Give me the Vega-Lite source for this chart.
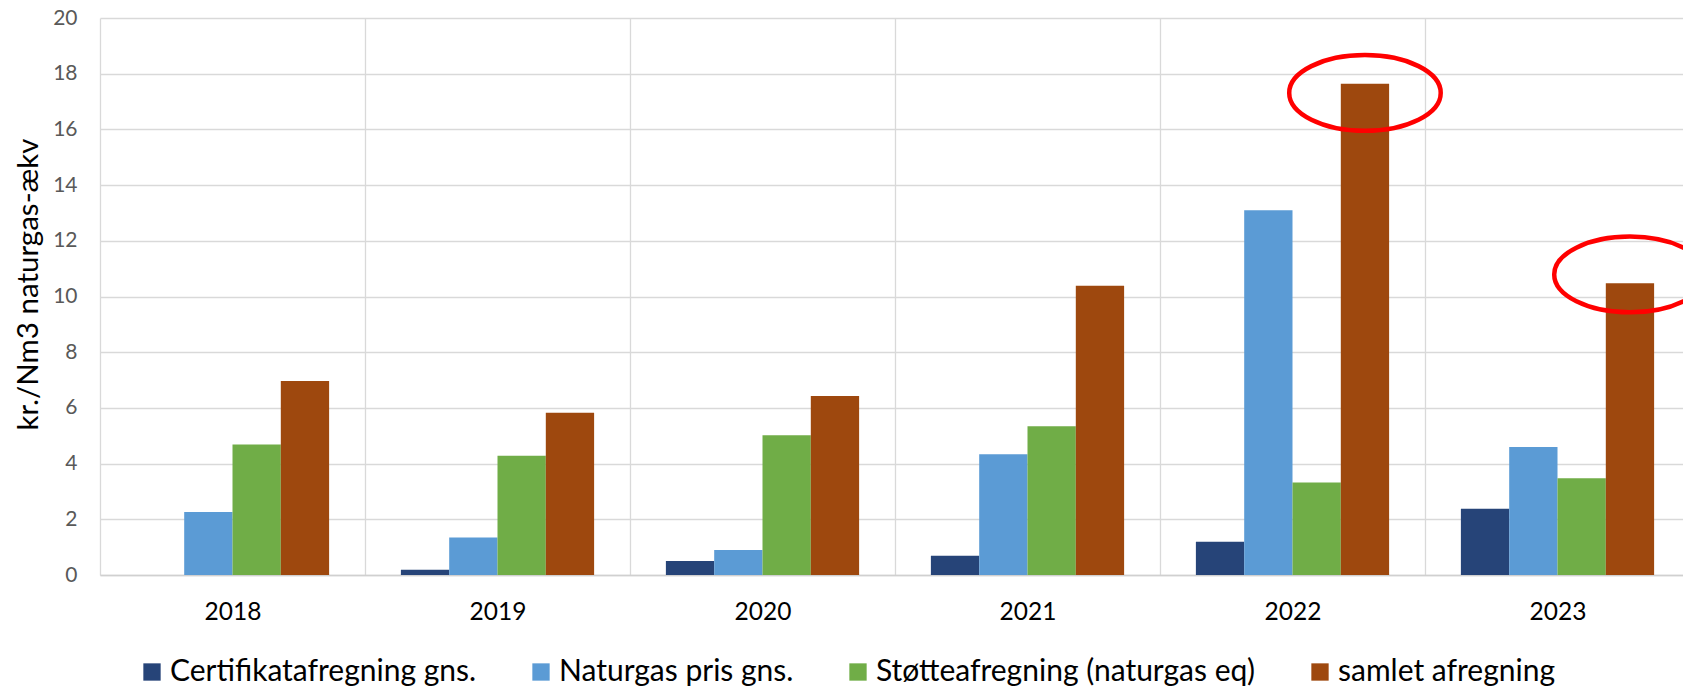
{
  "$schema": "https://vega.github.io/schema/vega-lite/v6.json",
  "width": 1583,
  "height": 557,
  "autosize": {"type": "none"},
  "padding": {"left": 100, "top": 18, "right": 0, "bottom": 112},
  "background": "white",
  "config": {"view": {"stroke": null}, "font": "Lato", "legend": {"padding": 0}},
  "datasets": {
    "bars": [
      {"year": "2018", "series": "Certifikatafregning gns.", "value": 0},
      {"year": "2018", "series": "Naturgas pris gns.", "value": 2.26},
      {"year": "2018", "series": "Støtteafregning (naturgas eq)", "value": 4.69},
      {"year": "2018", "series": "samlet afregning", "value": 6.97},
      {"year": "2019", "series": "Certifikatafregning gns.", "value": 0.19},
      {"year": "2019", "series": "Naturgas pris gns.", "value": 1.35},
      {"year": "2019", "series": "Støtteafregning (naturgas eq)", "value": 4.28},
      {"year": "2019", "series": "samlet afregning", "value": 5.83},
      {"year": "2020", "series": "Certifikatafregning gns.", "value": 0.5},
      {"year": "2020", "series": "Naturgas pris gns.", "value": 0.9},
      {"year": "2020", "series": "Støtteafregning (naturgas eq)", "value": 5.02},
      {"year": "2020", "series": "samlet afregning", "value": 6.43},
      {"year": "2021", "series": "Certifikatafregning gns.", "value": 0.69},
      {"year": "2021", "series": "Naturgas pris gns.", "value": 4.34},
      {"year": "2021", "series": "Støtteafregning (naturgas eq)", "value": 5.34},
      {"year": "2021", "series": "samlet afregning", "value": 10.39},
      {"year": "2022", "series": "Certifikatafregning gns.", "value": 1.19},
      {"year": "2022", "series": "Naturgas pris gns.", "value": 13.1},
      {"year": "2022", "series": "Støtteafregning (naturgas eq)", "value": 3.32},
      {"year": "2022", "series": "samlet afregning", "value": 17.64},
      {"year": "2023", "series": "Certifikatafregning gns.", "value": 2.38},
      {"year": "2023", "series": "Naturgas pris gns.", "value": 4.6},
      {"year": "2023", "series": "Støtteafregning (naturgas eq)", "value": 3.47},
      {"year": "2023", "series": "samlet afregning", "value": 10.48}
    ],
    "ann": [
      {"year": "2022", "series": "samlet afregning", "value": 17.31},
      {"year": "2023", "series": "samlet afregning", "value": 10.79}
    ]
  },
  "layer": [
    {
      "data": {"name": "bars"},
      "mark": {"type": "bar"},
      "encoding": {
        "x": {
          "field": "year", "type": "nominal",
          "scale": {"range": [0, 1590], "paddingInner": 0, "paddingOuter": 0},
          "axis": {
            "title": null, "labelAngle": 0, "labelFont": "Lato", "labelFontSize": 24.5,
            "labelColor": "#000000", "labelBaseline": "middle", "labelPadding": 37,
            "ticks": false, "tickBand": "extent", "grid": true, "gridColor": "#d9d9d9",
            "gridWidth": 1.3, "domainColor": "#d0d0d0", "domainWidth": 1.3
          }
        },
        "xOffset": {
          "field": "series", "type": "nominal",
          "scale": {
            "domain": ["Certifikatafregning gns.", "Naturgas pris gns.", "Støtteafregning (naturgas eq)", "samlet afregning"],
            "paddingInner": 0, "paddingOuter": 0.743
          }
        },
        "y": {
          "field": "value", "type": "quantitative",
          "scale": {"domain": [0, 20]},
          "axis": {
            "title": "kr./Nm3 naturgas-ækv", "titleFont": "Lato", "titleFontSize": 29.5,
            "titleFontWeight": "normal", "titleColor": "#000000", "titlePadding": 9, "titleY": 266,
            "labelFont": "Lato", "labelFontSize": 21, "labelColor": "#595959", "labelPadding": 23,
            "ticks": false, "domain": false, "grid": true, "gridColor": "#d9d9d9", "gridWidth": 1.3,
            "values": [0, 2, 4, 6, 8, 10, 12, 14, 16, 18, 20]
          }
        },
        "color": {
          "field": "series", "type": "nominal",
          "scale": {
            "domain": ["Certifikatafregning gns.", "Naturgas pris gns.", "Støtteafregning (naturgas eq)", "samlet afregning"],
            "range": ["#264478", "#5B9BD5", "#70AD47", "#9E480E"]
          },
          "legend": {
            "orient": "none", "legendX": 37, "legendY": 639, "direction": "horizontal",
            "columns": 4, "gridAlign": "each", "title": null, "symbolType": "square",
            "symbolSize": 300, "symbolStrokeWidth": 0, "labelFont": "Lato", "labelFontSize": 30,
            "labelColor": "#000000", "labelOffset": 3, "columnPadding": 49, "labelLimit": 600
          }
        }
      }
    },
    {
      "data": {"name": "ann"},
      "transform": [{"filter": "datum.year == '2022'"}],
      "mark": {
        "type": "point", "shape": "M -1 0 A 1 0.5 0 0 1 1 0 A 1 0.5 0 0 1 -1 0 Z",
        "size": 22952, "filled": false, "stroke": "#FF0000", "strokeWidth": 4.5, "opacity": 1, "xOffset": 2
      },
      "encoding": {
        "x": {"field": "year", "type": "nominal"},
        "xOffset": {"field": "series", "type": "nominal"},
        "y": {"field": "value", "type": "quantitative"}
      }
    },
    {
      "data": {"name": "ann"},
      "transform": [{"filter": "datum.year == '2023'"}],
      "mark": {
        "type": "point", "shape": "M -1 0 A 1 0.5 0 0 1 1 0 A 1 0.5 0 0 1 -1 0 Z",
        "size": 22952, "filled": false, "stroke": "#FF0000", "strokeWidth": 4.5, "opacity": 1, "xOffset": -9
      },
      "encoding": {
        "x": {"field": "year", "type": "nominal"},
        "xOffset": {"field": "series", "type": "nominal"},
        "y": {"field": "value", "type": "quantitative"}
      }
    }
  ]
}
